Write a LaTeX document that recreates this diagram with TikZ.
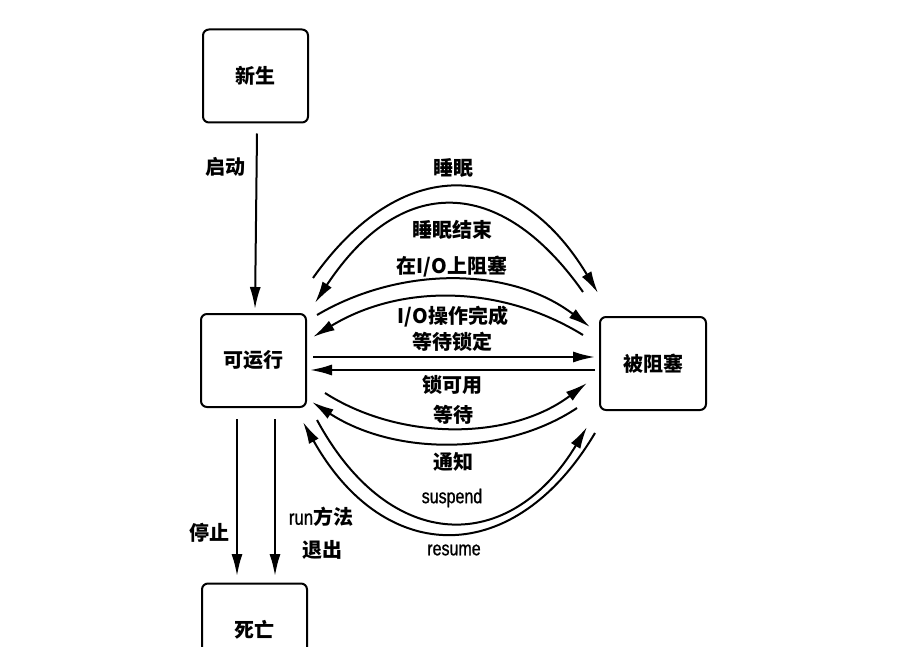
\documentclass[tikz,border=0pt]{standalone}
\usepackage{fontspec}
\usetikzlibrary{arrows.meta}
\newfontfamily\cjk{Noto Sans CJK SC}
\newfontfamily\narrowsans{Liberation Sans}[FakeStretch=0.8,FakeBold=1]
\begin{document}
\begin{tikzpicture}[x=1pt,y=-1pt,
 state/.style={draw,line width=2pt,rounded corners=6pt,minimum width=105pt,minimum height=93pt,font=\cjk\bfseries\fontsize{20}{24}\selectfont,inner sep=0pt},
 lbl/.style={font=\cjk\bfseries\fontsize{20}{24}\selectfont,inner sep=0pt},
 elbl/.style={font=\narrowsans\fontsize{20}{24}\selectfont,inner sep=0pt},
 conn/.style={line width=2pt,-{Latex[length=22pt,width=11pt]}}]
\useasboundingbox (0,0) rectangle (900,647);
\fill[white] (0,0) rectangle (900,647);

\node[state] (new) at (255.5,76) {新生};
\node[state] (run) at (253.5,360.5) {可运行};
\node[state,minimum width=106pt] (blk) at (653,363.5) {被阻塞};
\node[state] (dead) at (254.5,630) {死亡};

% vertical connectors
\draw[conn] ([xshift=1.5pt,yshift=-10pt]new.south) -- ([xshift=1.5pt,yshift=4pt]run.north);
\draw[conn] ([xshift=-16.5pt,yshift=-11pt]run.south) -- ([xshift=-17.5pt,yshift=6.5pt]dead.north);
\draw[conn] ([xshift=21.5pt,yshift=-11pt]run.south) -- ([xshift=20.5pt,yshift=6.5pt]dead.north);

% end points of the arcs
\coordinate (a1) at (313,278); \coordinate (b1) at (598,293);
\coordinate (a2) at (583,292); \coordinate (b2) at (315,303);
\coordinate (a3) at (317,315); \coordinate (b3) at (590,327);
\coordinate (a4) at (583,335); \coordinate (b4) at (313,337);
\coordinate (a5) at (313,357); \coordinate (b5) at (595,357);
\coordinate (a6) at (595,370); \coordinate (b6) at (310,370);
\coordinate (a7) at (325,393); \coordinate (b7) at (587,383);
\coordinate (a8) at (577,408); \coordinate (b8) at (312,402);
\coordinate (a9) at (317,420); \coordinate (b9) at (587,427);
\coordinate (a10) at (595,433); \coordinate (b10) at (303,422);

\draw[conn] (a1) .. controls (400,155) and (515,155) .. (b1);
\draw[conn] (a2) .. controls (500,174) and (400,174) .. (b2);
\draw[conn] (a3) .. controls (400,266) and (510,266) .. (b3);
\draw[conn] (a4) .. controls (500,284) and (400,284) .. (b4);
\draw[conn] (a5) -- (b5);
\draw[conn] (a6) -- (b6);
\draw[conn] (a7) .. controls (400,441) and (510,441) .. (b7);
\draw[conn] (a8) .. controls (505,456) and (395,456) .. (b8);
\draw[conn] (a9) .. controls (390,555) and (510,555) .. (b9);
\draw[conn] (a10) .. controls (515,568) and (385,568) .. (b10);

% labels
\node[lbl] (l0) at (225,167) {启动};
\node[lbl] (l1) at (209,533) {停止};
\node[lbl] (l2) at (321,517) {{\narrowsans\mdseries\fontsize{21}{24}\selectfont run}方法};
\node[lbl] (l3) at (322,550) {退出};
\node[lbl] (l4) at (453,168) {睡眠};
\node[lbl] (l5) at (452,230) {睡眠结束};
\node[lbl] (l6) at (452,267) {在I/O上阻塞};
\node[lbl] (l7) at (453,317) {I/O操作完成};
\node[lbl] (l8) at (452,342) {等待锁定};
\node[lbl] (l9) at (452,385) {锁可用};
\node[lbl] (l10) at (453,415) {等待};
\node[lbl] (l11) at (453,462) {通知};
\node[elbl] (l12) at (452,498) {suspend};
\node[elbl] (l13) at (454,550) {resume};
\end{tikzpicture}
\end{document}
